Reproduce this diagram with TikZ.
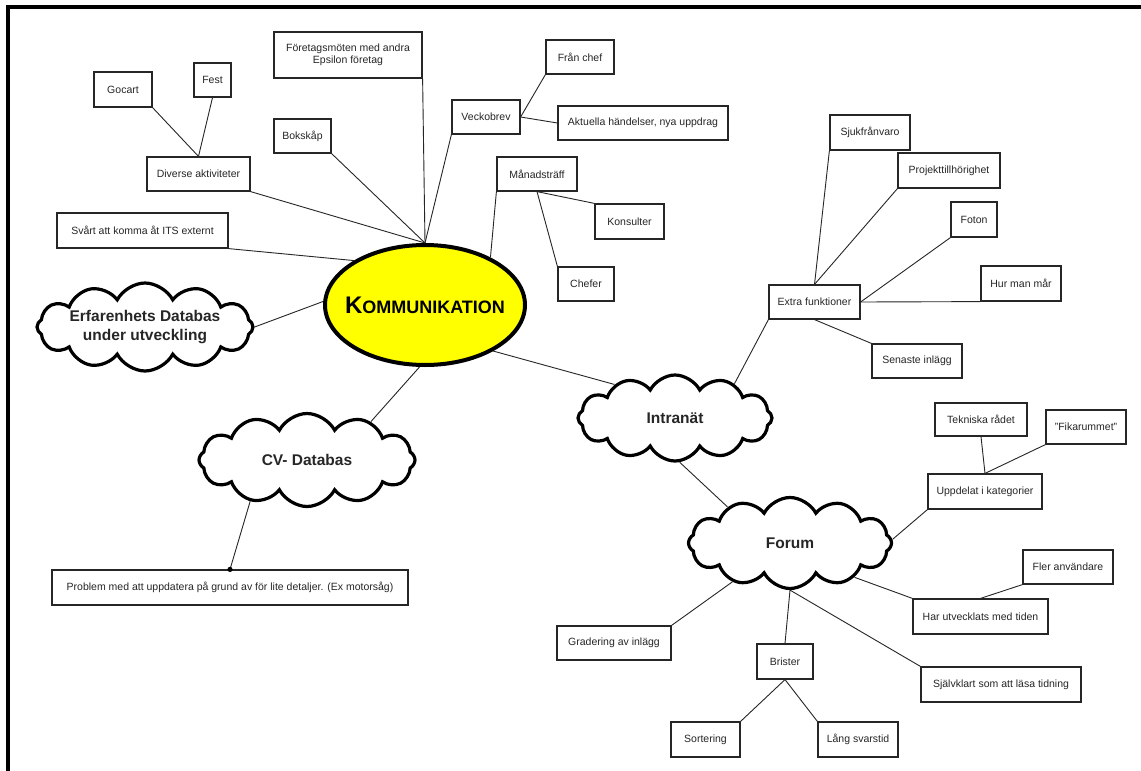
\documentclass[tikz,border=0pt]{standalone}
\usepackage{fontspec}
\setmainfont{Liberation Sans}
\usetikzlibrary{shapes.geometric,shapes.symbols}
\definecolor{hubyellow}{HTML}{FFFF00}
\definecolor{inkgray}{HTML}{262626}
\tikzset{
  leaf/.style={draw=inkgray, line width=1.2pt, fill=white, rectangle, inner sep=0pt,
    font=\fontsize{10.5}{12.5}\selectfont, text=inkgray, align=center},
  puff/.style={cloud, draw=black, line width=3.2pt, fill=white, cloud puffs=12,
    cloud puff arc=125, cloud ignores aspect, inner sep=0pt,
    font=\bfseries\fontsize{15.5}{18.5}\selectfont, text=black!85, align=center},
  hub/.style={ellipse, draw=black, line width=4pt, fill=hubyellow, inner sep=0pt},
  hubtext/.style={inner sep=0pt, font=\bfseries, text=black},
  link/.style={draw=inkgray, line width=0.9pt},
  frameline/.style={draw=black, line width=4pt}
}
\newcommand{\leafbox}[5]{\node[leaf, minimum width=#3pt, minimum height=#4pt] (#1) at (#2) {#5};}
\begin{document}
\begin{tikzpicture}[x=1pt, y=-1pt]
\useasboundingbox (0,0) rectangle (1141,771);
\fill[white] (0,0) rectangle (1141,771);
% page frame (top and left edges)
\draw[frameline] (7.5,771) -- (7.5,7) -- (1141,7);

% central topic: the ellipse and its small-caps title
\node[hub, minimum width=200pt, minimum height=120pt] (k) at (425,305) {};
\node[hubtext] (ktitle) at (k.center)
  {\fontsize{24}{27}\selectfont K\fontsize{18}{21}\selectfont OMMUNIKATION};

% clouds
\node[puff, minimum width=216pt, minimum height=88pt] (erf) at (145,327) {Erfarenhets Databas\\under utveckling};
\node[puff, minimum width=216pt, minimum height=93pt] (cv) at (307,460) {CV- Databas};
\node[puff, minimum width=194pt, minimum height=86pt] (int) at (675,418) {Intranät};
\node[puff, minimum width=203pt, minimum height=91pt] (forum) at (790,543) {Forum};

% boxes
\leafbox{gocart}{123,89.5}{58}{35}{Gocart}
\leafbox{fest}{212.5,80}{37}{34}{Fest}
\leafbox{fm}{348,55}{148}{46}{Företagsmöten med andra\\Epsilon företag}
\leafbox{bok}{302.5,136}{57}{34}{Bokskåp}
\leafbox{div}{198.5,174}{103}{34}{Diverse aktiviteter}
\leafbox{svart}{142.5,230.5}{171}{35}{Svårt att komma åt ITS externt}
\leafbox{veck}{486,117}{68}{34}{Veckobrev}
\leafbox{fran}{580,57}{68}{34}{Från chef}
\leafbox{akt}{643,123}{170}{34}{Aktuella händelser, nya uppdrag}
\leafbox{man}{537,174}{80}{34}{Månadsträff}
\leafbox{kons}{629.5,221.5}{69}{35}{Konsulter}
\leafbox{chef}{586,284}{56}{34}{Chefer}
\leafbox{sjuk}{870,132.5}{80}{35}{Sjukfrånvaro}
\leafbox{proj}{949,170.5}{102}{35}{Projekttillhörighet}
\leafbox{foton}{974,219.5}{46}{35}{Foton}
\leafbox{hur}{1021,283.5}{80}{35}{Hur man mår}
\leafbox{extra}{814.5,302}{91}{34}{Extra funktioner}
\leafbox{sen}{917,361}{90}{34}{Senaste inlägg}
\leafbox{tek}{981,419.5}{92}{33}{Tekniska rådet}
\leafbox{fika}{1086,427}{80}{34}{"Fikarummet"}
\leafbox{upp}{985,491.5}{114}{35}{Uppdelat i kategorier}
\leafbox{fler}{1068,567}{90}{34}{Fler användare}
\leafbox{har}{980.5,616.5}{135}{35}{Har utvecklats med tiden}
\leafbox{gra}{614,643}{114}{34}{Gradering av inlägg}
\leafbox{bri}{785,661.5}{56}{35}{Brister}
\leafbox{sj}{1001,684.5}{160}{35}{Självklart som att läsa tidning}
\leafbox{sort}{705.5,739.5}{69}{35}{Sortering}
\leafbox{lang}{858,739.5}{80}{35}{Lång svarstid}
\leafbox{prob}{230,587.5}{356}{35}{Problem med att uppdatera på grund av för lite detaljer. (Ex motorsåg)}

% connectors around the central topic
\draw[link] (fm.south east) -- (k.north);
\draw[link] (bok.south east) -- (k.north);
\draw[link] (div.south east) -- (k.north);
\draw[link] (veck.south west) -- (k.north);
\draw[link] (svart.south east) -- (k.148);
\draw[link] (man.south west) -- (k.36);
\draw[link] (erf.east) -- (k.178);
\draw[link] (cv.31) -- (k.265);
\draw[link] (k.326) -- (int.151);

% diverse aktiviteter
\draw[link] (gocart.south east) -- (div.north);
\draw[link] (fest.south) -- (div.north);

% veckobrev and månadsträff
\draw[link] (veck.east) -- (fran.south west);
\draw[link] (veck.east) -- (akt.west);
\draw[link] (man.south) -- (kons.north west);
\draw[link] (man.south) -- (chef.north west);

% cv-databas
\draw[link] (cv.216) -- (prob.north);
\fill[black] (prob.north) circle (2.6pt);

% intranät
\draw[link] (extra.south west) -- (int.30);
\draw[link] (int.276) -- (forum.150);
\draw[link] (extra.north) -- (sjuk.south west);
\draw[link] (extra.north) -- (proj.south west);
\draw[link] (extra.east) -- (foton.south west);
\draw[link] (extra.east) -- (hur.south west);
\draw[link] (extra.south) -- (sen.north west);

% forum
\draw[link] (upp.south west) -- (forum.2);
\draw[link] (tek.south) -- (upp.north);
\draw[link] (fika.south west) -- (upp.north);
\draw[link] (har.north west) -- (forum.332);
\draw[link] (fler.south west) -- (har.north);
\draw[link] (sj.north west) -- (forum.south);
\draw[link] (bri.north) -- (forum.south);
\draw[link] (gra.north east) -- (forum.214);
\draw[link] (bri.south) -- (sort.north east);
\draw[link] (bri.south) -- (lang.north west);
\end{tikzpicture}
\end{document}
